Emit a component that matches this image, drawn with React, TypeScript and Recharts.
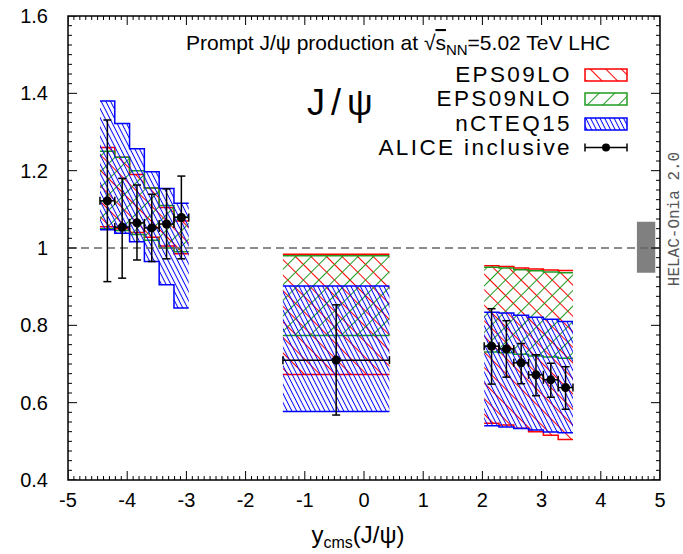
import React from "react";
import {
  Area,
  ComposedChart,
  ErrorBar,
  ReferenceArea,
  ReferenceLine,
  Scatter,
  XAxis,
  YAxis,
} from "recharts";

const FONT = '"Liberation Sans", Arial, Helvetica, sans-serif';
const MONO = '"Liberation Mono", "DejaVu Sans Mono", monospace';

const xTicks = [-5, -4, -3, -2, -1, 0, 1, 2, 3, 4, 5];
const yTicks = [0.4, 0.6, 0.8, 1, 1.2, 1.4, 1.6];
const xMinorTicks = Array.from({ length: 101 }, (_, i) => Math.round((-5 + i * 0.1) * 10) / 10);
const yMinorTicks = Array.from({ length: 49 }, (_, i) => Math.round((0.4 + i * 0.025) * 1000) / 1000);

// rapidity bin edges of the three ALICE windows
const backwardEdges = [-4.46, -4.21, -3.96, -3.71, -3.46, -3.21, -2.96];
const midEdges = [-1.37, 0.43];
const forwardEdges = [2.03, 2.28, 2.53, 2.78, 3.03, 3.28, 3.53];
const windows = [backwardEdges, midEdges, forwardEdges];

// nPDF uncertainty bands, one value per bin: 6 backward, 1 mid, 6 forward
const eps09loLow = [1.055, 1.05, 1.04, 1.028, 1.005, 0.985, 0.673, 0.547, 0.542, 0.534, 0.525, 0.516, 0.505];
const eps09loHigh = [1.26, 1.235, 1.19, 1.155, 1.105, 1.07, 0.984, 0.954, 0.952, 0.948, 0.946, 0.943, 0.942];
const eps09nloLow = [1.05, 1.045, 1.035, 1.02, 1.0, 0.99, 0.774, 0.731, 0.729, 0.725, 0.721, 0.718, 0.715];
const eps09nloHigh = [1.25, 1.235, 1.2, 1.155, 1.11, 1.08, 0.98, 0.95, 0.948, 0.944, 0.941, 0.938, 0.936];
const ncteq15Low = [1.047, 1.038, 1.016, 0.965, 0.905, 0.845, 0.577, 0.54, 0.537, 0.533, 0.529, 0.524, 0.522];
const ncteq15High = [1.38, 1.322, 1.257, 1.197, 1.154, 1.116, 0.902, 0.834, 0.832, 0.826, 0.821, 0.816, 0.81];

// ALICE inclusive R_pPb
const aliceY = [-4.335, -4.085, -3.835, -3.585, -3.335, -3.085, -0.47, 2.155, 2.405, 2.655, 2.905, 3.155, 3.405];
const aliceHalfWidth = [0.125, 0.125, 0.125, 0.125, 0.125, 0.125, 0.9, 0.125, 0.125, 0.125, 0.125, 0.125, 0.125];
const aliceValue = [1.122, 1.054, 1.065, 1.052, 1.062, 1.079, 0.71, 0.746, 0.739, 0.703, 0.672, 0.659, 0.639];
const aliceUp = [1.331, 1.18, 1.163, 1.139, 1.153, 1.186, 0.853, 0.843, 0.812, 0.753, 0.724, 0.702, 0.693];
const aliceDown = [0.913, 0.922, 0.969, 0.965, 0.972, 0.972, 0.568, 0.648, 0.666, 0.649, 0.618, 0.614, 0.583];

const models = [
  { id: "lo", name: "EPS09LO", low: eps09loLow, high: eps09loHigh, color: "#ff0000" },
  { id: "nlo", name: "EPS09NLO", low: eps09nloLow, high: eps09nloHigh, color: "#1f9a1f" },
  { id: "ncteq", name: "nCTEQ15", low: ncteq15Low, high: ncteq15High, color: "#0000ff" },
];

// tick mark lengths in px
const MAJOR = 9;
const MINOR = 4;

// step rows for one window: a point at every bin edge, the last one repeats the last bin
function bandRows(low: number[], high: number[], w: number) {
  let start = 0;
  for (let k = 0; k < w; k++) start += windows[k].length - 1;
  const edges = windows[w];
  return edges.map((x, i) => {
    const j = start + Math.min(i, edges.length - 2);
    return { x, band: [low[j], high[j]] };
  });
}

const aliceData = aliceY.map((x, i) => ({
  x,
  value: aliceValue[i],
  ex: aliceHalfWidth[i],
  ey: [aliceValue[i] - aliceDown[i], aliceUp[i] - aliceValue[i]],
}));

// anchor points of the frame ticks; the scatter shape draws the inward stroke
const isMajorY = (v: number) => yTicks.some((t) => Math.abs(t - v) < 1e-6);
const bottomTicks = xMinorTicks.map((v) => ({ x: v, value: 0.4, len: xTicks.includes(v) ? MAJOR : MINOR }));
const topTicks = xMinorTicks.map((v) => ({ x: v, value: 1.6, len: xTicks.includes(v) ? MAJOR : MINOR }));
const leftTicks = yMinorTicks.map((v) => ({ x: -5, value: v, len: isMajorY(v) ? MAJOR : MINOR }));
const rightTicks = yMinorTicks.map((v) => ({ x: 5, value: v, len: isMajorY(v) ? MAJOR : MINOR }));

function tickShape(dx: number, dy: number) {
  return (props: any) => {
    const { cx, cy, payload } = props;
    if (cx == null || cy == null) return <g />;
    const len = payload?.len ?? MINOR;
    return <line x1={cx} y1={cy} x2={cx + dx * len} y2={cy + dy * len} stroke="#000" strokeWidth={1} />;
  };
}

function Hatch({ id, color, gap, angle }: { id: string; color: string; gap: number; angle: number }) {
  return (
    <pattern id={id} patternUnits="userSpaceOnUse" width={gap} height={gap} patternTransform={`rotate(${angle})`}>
      <line x1={gap / 2} y1={0} x2={gap / 2} y2={gap} stroke={color} strokeWidth={1} />
    </pattern>
  );
}

function HatchDefs({ prefix }: { prefix: string }) {
  return (
    <defs>
      <Hatch id={`${prefix}lo`} color="#ff0000" gap={11} angle={-45} />
      <Hatch id={`${prefix}nlo`} color="#1f9a1f" gap={11} angle={45} />
      <Hatch id={`${prefix}ncteq`} color="#0000ff" gap={4.2} angle={-27} />
    </defs>
  );
}

const tickStyle = { fontSize: 20, fill: "#000", fontFamily: FONT };

function Annotations() {
  const rows = [82, 106, 131];
  return (
    <svg
      width={683}
      height={554}
      style={{ position: "absolute", left: 0, top: 0, pointerEvents: "none" }}
      fontFamily={FONT}
    >
      <HatchDefs prefix="leg" />
      <text x={186} y={50} fontSize={21} fill="#000">
        Prompt J/ψ production at √<tspan textDecoration="overline">s</tspan>
        <tspan fontSize={15} dy={5}>NN</tspan>
        <tspan dy={-5}>=5.02 TeV LHC</tspan>
      </text>
      <text x={307} y={115} fontSize={36} letterSpacing={6} fill="#000">
        J/ψ
      </text>
      {models.map((m, i) => (
        <g key={m.id}>
          <text x={572} y={rows[i]} fontSize={22.5} letterSpacing={2.4} textAnchor="end" fill="#000">
            {m.name}
          </text>
          <rect
            x={585}
            y={rows[i] - 13}
            width={42}
            height={12}
            fill={`url(#leg${m.id})`}
            stroke={m.color}
            strokeWidth={1.5}
          />
        </g>
      ))}
      <text x={572} y={155} fontSize={22.5} letterSpacing={2.4} textAnchor="end" fill="#000">
        ALICE inclusive
      </text>
      <line x1={585} y1={147.5} x2={627} y2={147.5} stroke="#000" strokeWidth={1.5} />
      <line x1={585} y1={143.5} x2={585} y2={151.5} stroke="#000" strokeWidth={1.5} />
      <line x1={627} y1={143.5} x2={627} y2={151.5} stroke="#000" strokeWidth={1.5} />
      <circle cx={606} cy={147.5} r={4} fill="#000" />
      <text x={358} y={543} fontSize={24} textAnchor="middle" fill="#000">
        y<tspan fontSize={16} dy={5}>cms</tspan>
        <tspan dy={-5}>(J/ψ)</tspan>
      </text>
      <text
        x={0}
        y={0}
        transform="translate(679 219) rotate(-90)"
        fontFamily={MONO}
        fontSize={16}
        textAnchor="middle"
        fill="#555"
      >
        HELAC-Onia 2.0
      </text>
    </svg>
  );
}

export default function App() {
  return (
    <div style={{ position: "absolute", left: 0, top: 0, width: 683, height: 554, background: "#fff", fontFamily: FONT }}>
      <ComposedChart width={683} height={554} margin={{ top: 16, right: 23, bottom: 44, left: 8 }}>
        <HatchDefs prefix="band" />
        <XAxis
          xAxisId="x"
          dataKey="x"
          type="number"
          domain={[-5, 5]}
          ticks={xTicks}
          interval={0}
          allowDataOverflow
          height={30}
          tickLine={false}
          axisLine={false}
          tickSize={6}
          tickMargin={7}
          tick={tickStyle}
        />
        <YAxis
          yAxisId="y"
          dataKey="value"
          type="number"
          domain={[0.4, 1.6]}
          ticks={yTicks}
          interval={0}
          allowDataOverflow
          width={60}
          tickLine={false}
          axisLine={false}
          tickSize={8}
          tickMargin={12}
          tick={tickStyle}
        />

        <ReferenceLine xAxisId="x" yAxisId="y" y={1} stroke="#666" strokeWidth={1.5} strokeDasharray="8 5" />
        <ReferenceArea xAxisId="x" yAxisId="y" x1={4.61} x2={4.92} y1={0.936} y2={1.068} fill="#808080" fillOpacity={1} stroke="none" />

        {models.flatMap((m) =>
          windows.map((_, w) => (
            <Area
              key={`${m.id}-${w}`}
              xAxisId="x"
              yAxisId="y"
              data={bandRows(m.low, m.high, w)}
              dataKey="band"
              type="stepAfter"
              stroke={m.color}
              strokeWidth={1.5}
              fill={`url(#band${m.id})`}
              fillOpacity={1}
              dot={false}
              activeDot={false}
              isAnimationActive={false}
            />
          ))
        )}

        <Scatter xAxisId="x" yAxisId="y" data={aliceData} dataKey="value" fill="#000" isAnimationActive={false}>
          <ErrorBar dataKey="ey" direction="y" width={4} stroke="#000" strokeWidth={1.5} isAnimationActive={false} />
          <ErrorBar dataKey="ex" direction="x" width={4} stroke="#000" strokeWidth={1.5} isAnimationActive={false} />
        </Scatter>

        <Scatter xAxisId="x" yAxisId="y" data={bottomTicks} dataKey="value" shape={tickShape(0, -1)} isAnimationActive={false} />
        <Scatter xAxisId="x" yAxisId="y" data={topTicks} dataKey="value" shape={tickShape(0, 1)} isAnimationActive={false} />
        <Scatter xAxisId="x" yAxisId="y" data={leftTicks} dataKey="value" shape={tickShape(1, 0)} isAnimationActive={false} />
        <Scatter xAxisId="x" yAxisId="y" data={rightTicks} dataKey="value" shape={tickShape(-1, 0)} isAnimationActive={false} />

        <ReferenceArea xAxisId="x" yAxisId="y" x1={-5} x2={5} y1={0.4} y2={1.6} fill="none" stroke="#000" strokeWidth={1.5} />
      </ComposedChart>
      <Annotations />
    </div>
  );
}
